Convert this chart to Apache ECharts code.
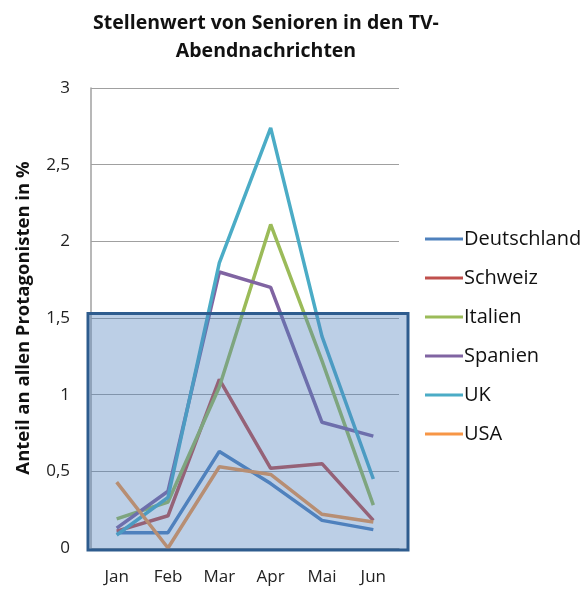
<!DOCTYPE html>
<html>
<head>
<meta charset="utf-8">
<script src="https://cdn.jsdelivr.net/npm/echarts@6/dist/echarts.min.js"></script>
<style>
  html, body { margin: 0; padding: 0; background: #fff; }
  #main { width: 585px; height: 590px; }
</style>
</head>
<body>
<div id="main"></div>
<script>
// Monate
var months = ['Jan', 'Feb', 'Mar', 'Apr', 'Mai', 'Jun'];
var countries = ['Deutschland', 'Schweiz', 'Italien', 'Spanien', 'UK', 'USA'];
var colors = ['#4F81BD', '#C0504D', '#9BBB59', '#8064A2', '#4BACC6', '#F79646'];

var deutschland = [0.10, 0.10, 0.63, 0.42, 0.18, 0.12];
var schweiz     = [0.11, 0.21, 1.10, 0.52, 0.55, 0.18];
var italien     = [0.19, 0.30, 1.05, 2.11, 1.22, 0.28];
var spanien     = [0.13, 0.37, 1.80, 1.70, 0.82, 0.73];
var uk          = [0.085, 0.33, 1.86, 2.74, 1.38, 0.45];
var usa         = [0.43, 0.00, 0.53, 0.48, 0.22, 0.17];
var values = [deutschland, schweiz, italien, spanien, uk, usa];

// Hervorhebung (Kasten) bis ca. 1,53
var boxTop = 1.53;

var font = '"Open Sans", "DejaVu Sans", sans-serif';

var chartDom = document.getElementById('main');
var myChart = echarts.init(chartDom);

var option = {
  animation: false,
  color: colors,
  title: {
    text: 'Stellenwert von Senioren in den TV-\nAbendnachrichten',
    left: 261,
    textAlign: 'center',
    top: 4,
    textStyle: {
      fontFamily: font,
      fontWeight: 'bold',
      fontSize: 19.5,
      lineHeight: 28,
      color: '#111'
    }
  },
  legend: {
    orient: 'vertical',
    left: 420,
    top: 224,
    icon: 'rect',
    itemWidth: 38,
    itemHeight: 3,
    itemGap: 19,
    data: countries,
    textStyle: {
      fontFamily: font,
      fontSize: 20,
      color: '#111',
      padding: [0, 0, 0, -4]
    }
  },
  grid: {
    left: 91,
    top: 88,
    right: 186,
    bottom: 42
  },
  xAxis: {
    type: 'category',
    data: months,
    boundaryGap: true,
    axisLine: { show: true, lineStyle: { color: '#a0a0a0', width: 1 } },
    axisTick: { show: false },
    axisLabel: {
      margin: 21,
      fontFamily: font,
      fontSize: 17,
      color: '#222'
    }
  },
  yAxis: {
    type: 'value',
    min: 0,
    max: 3,
    interval: 0.5,
    name: 'Anteil an allen Protagonisten in %',
    nameLocation: 'middle',
    nameGap: 58,
    nameTextStyle: {
      fontFamily: font,
      fontWeight: 'bold',
      fontSize: 18.5,
      color: '#111'
    },
    axisLine: { show: true, lineStyle: { color: '#a0a0a0', width: 1.5 } },
    axisTick: { show: false },
    splitLine: { lineStyle: { color: '#a0a0a0', width: 1.2 } },
    axisLabel: {
      margin: 21,
      fontFamily: font,
      fontSize: 17,
      color: '#222',
      formatter: function (v) { return String(v).replace('.', ','); }
    }
  },
  series: countries.map(function (name, i) {
    return {
      name: name,
      type: 'line',
      data: values[i],
      symbol: 'none',
      lineStyle: { width: 3.5, color: colors[i] },
      itemStyle: { color: colors[i] }
    };
  })
};
myChart.setOption(option);

// Kasten über den Linien, Position aus den Achsen
var pTop = myChart.convertToPixel({ gridIndex: 0 }, [0, boxTop]);
var pBottom = myChart.convertToPixel({ gridIndex: 0 }, [0, 0]);
var gridRect = myChart.getModel().getComponent('grid').coordinateSystem.getRect();
myChart.setOption({
  graphic: [{
    type: 'rect',
    z: 100,
    shape: {
      x: gridRect.x - 3,
      y: pTop[1],
      width: gridRect.width + 12,
      height: pBottom[1] - pTop[1] + 2
    },
    style: {
      fill: 'rgba(79,129,189,0.38)',
      stroke: '#2E5C8E',
      lineWidth: 3
    }
  }]
});
</script>
</body>
</html>
